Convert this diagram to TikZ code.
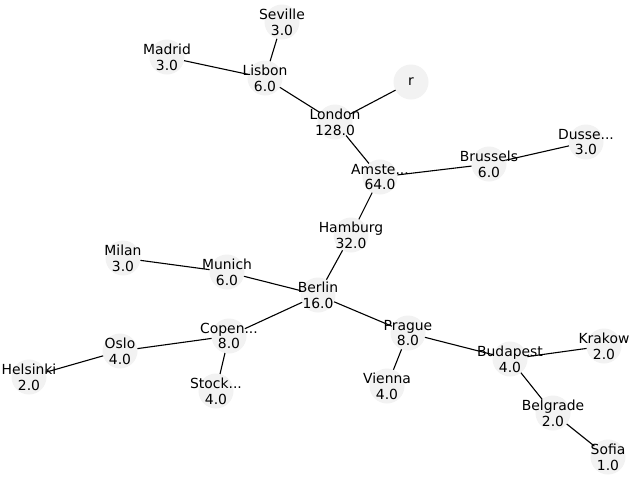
\documentclass[tikz,border=0pt]{standalone}
\usepackage{fontspec}
\setmainfont{DejaVu Sans}
\begin{document}
\begin{tikzpicture}[x=1pt,y=-1pt,
  citydot/.style={circle,fill=black!5,draw=none,minimum size=35pt,inner sep=0pt,outer sep=0pt},
  citytext/.style={align=center,inner sep=0pt,font=\fontsize{13.9}{15.8}\selectfont},
  link/.style={draw=black,line width=1.1pt}]
\useasboundingbox (0,0) rectangle (640,480);
% node discs
\node[citydot] (sev) at (282,22) {};
\node[citydot] (mad) at (167,57) {};
\node[citydot] (lis) at (265,78) {};
\node[citydot] (r)   at (411,82) {};
\node[citydot] (lon) at (335,122) {};
\node[citydot] (ams) at (380,177) {};
\node[citydot] (bru) at (489,164) {};
\node[citydot] (dus) at (586,142) {};
\node[citydot] (ham) at (351,235) {};
\node[citydot] (mil) at (123,258) {};
\node[citydot] (mun) at (227,272) {};
\node[citydot] (ber) at (318,295) {};
\node[citydot] (cop) at (229,336) {};
\node[citydot] (pra) at (408,333) {};
\node[citydot] (osl) at (120,351) {};
\node[citydot] (hel) at (29,377) {};
\node[citydot] (sto) at (216,391) {};
\node[citydot] (vie) at (387,386) {};
\node[citydot] (bud) at (510,359) {};
\node[citydot] (kra) at (604,346) {};
\node[citydot] (bel) at (553,413) {};
\node[citydot] (sof) at (608,457) {};
% connections
\draw[link] (sev) -- (lis);
\draw[link] (mad) -- (lis);
\draw[link] (lis) -- (lon);
\draw[link] (r) -- (lon);
\draw[link] (lon) -- (ams);
\draw[link] (ams) -- (bru);
\draw[link] (bru) -- (dus);
\draw[link] (ams) -- (ham);
\draw[link] (ham) -- (ber);
\draw[link] (mil) -- (mun);
\draw[link] (mun) -- (ber);
\draw[link] (ber) -- (cop);
\draw[link] (ber) -- (pra);
\draw[link] (cop) -- (osl);
\draw[link] (osl) -- (hel);
\draw[link] (cop) -- (sto);
\draw[link] (pra) -- (vie);
\draw[link] (pra) -- (bud);
\draw[link] (bud) -- (kra);
\draw[link] (bud) -- (bel);
\draw[link] (bel) -- (sof);
% labels
\node[citytext] (sev-t) at (sev) {Seville\\3.0};
\node[citytext] (mad-t) at (mad) {Madrid\\3.0};
\node[citytext] (lis-t) at (lis) {Lisbon\\6.0};
\node[citytext] (r-t)   at (r)   {r};
\node[citytext] (lon-t) at (lon) {London\\128.0};
\node[citytext] (ams-t) at (ams) {Amste...\\64.0};
\node[citytext] (bru-t) at (bru) {Brussels\\6.0};
\node[citytext] (dus-t) at (dus) {Dusse...\\3.0};
\node[citytext] (ham-t) at (ham) {Hamburg\\32.0};
\node[citytext] (mil-t) at (mil) {Milan\\3.0};
\node[citytext] (mun-t) at (mun) {Munich\\6.0};
\node[citytext] (ber-t) at (ber) {Berlin\\16.0};
\node[citytext] (cop-t) at (cop) {Copen...\\8.0};
\node[citytext] (pra-t) at (pra) {Prague\\8.0};
\node[citytext] (osl-t) at (osl) {Oslo\\4.0};
\node[citytext] (hel-t) at (hel) {Helsinki\\2.0};
\node[citytext] (sto-t) at (sto) {Stock...\\4.0};
\node[citytext] (vie-t) at (vie) {Vienna\\4.0};
\node[citytext] (bud-t) at (bud) {Budapest\\4.0};
\node[citytext] (kra-t) at (kra) {Krakow\\2.0};
\node[citytext] (bel-t) at (bel) {Belgrade\\2.0};
\node[citytext] (sof-t) at (sof) {Sofia\\1.0};
\end{tikzpicture}
\end{document}
